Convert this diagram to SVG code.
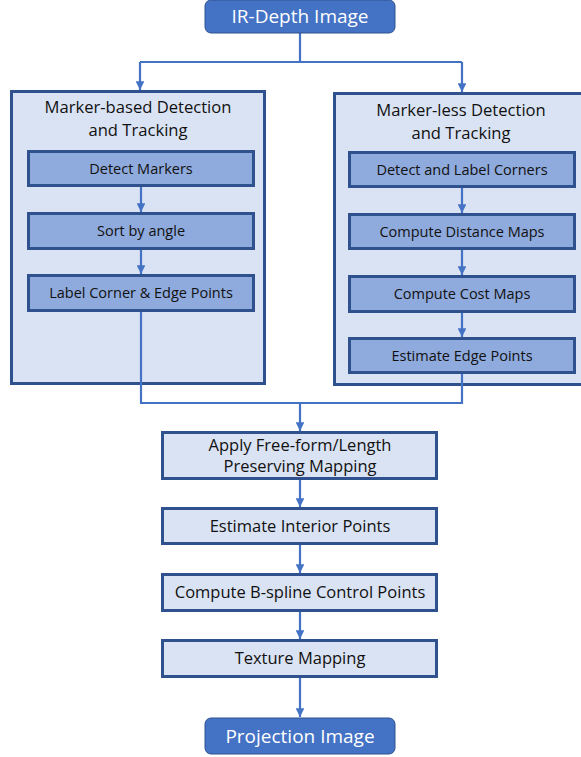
<svg xmlns="http://www.w3.org/2000/svg" width="581" height="757" viewBox="0 0 581 757">
<style>
text{font-family:"Open Sans","Noto Sans","Liberation Sans",sans-serif;text-anchor:middle;fill:#111}
.term{fill:#4472C4;stroke:#2F528F;stroke-width:1}
.term-t{fill:#fff;font-size:19px}
.outer{fill:#DAE3F3;stroke:#2F528F;stroke-width:3}
.inner{fill:#8FAADC;stroke:#2F528F;stroke-width:3}
.low{fill:#DAE3F3;stroke:#2F528F;stroke-width:3}
.t15{font-size:16.6px}
.t13{font-size:14.5px}
.t15b{font-size:16.5px}
.c{fill:none;stroke:#4472C4;stroke-width:2.2}
</style>
<defs>
<marker id="ah" viewBox="0 0 10 10" refX="10" refY="5" markerWidth="4" markerHeight="4" orient="auto" markerUnits="strokeWidth">
<path d="M0,0 L10,5 L0,10 z" fill="#4472C4"/>
</marker>
</defs>
<rect width="581" height="757" fill="#fff"/>
<g id="n-marker-based">
<rect class="outer" x="11.5" y="91.5" width="253" height="292"/>
<text class="t15" x="138" y="113">Marker-based Detection</text>
<text class="t15" x="138" y="136">and Tracking</text>
</g>
<g id="n-marker-less">
<rect class="outer" x="334.5" y="93.5" width="250" height="291"/>
<text class="t15" x="461" y="116">Marker-less Detection</text>
<text class="t15" x="461" y="139">and Tracking</text>
</g>
<g id="connectors">
<path class="c" d="M300,33 V62 M140,62 H462" />
<path class="c" d="M140,62 V90" marker-end="url(#ah)"/>
<path class="c" d="M462,62 V92" marker-end="url(#ah)"/>
<path class="c" d="M141,186 V212" marker-end="url(#ah)"/>
<path class="c" d="M141,249 V274" marker-end="url(#ah)"/>
<path class="c" d="M462,187 V213" marker-end="url(#ah)"/>
<path class="c" d="M462,249 V275" marker-end="url(#ah)"/>
<path class="c" d="M462,312 V337" marker-end="url(#ah)"/>
<path class="c" d="M141,311 V403 H462 V373"/>
<path class="c" d="M300,403 V431" marker-end="url(#ah)"/>
<path class="c" d="M300,479 V507" marker-end="url(#ah)"/>
<path class="c" d="M300,544 V573" marker-end="url(#ah)"/>
<path class="c" d="M300,611 V639" marker-end="url(#ah)"/>
<path class="c" d="M300,677 V717" marker-end="url(#ah)"/>
</g>
<g id="n-ir">
<rect class="term" x="205" y="0" width="190" height="33" rx="6"/>
<text class="term-t" x="300" y="23">IR-Depth Image</text>
</g>
<g id="n-detect-markers">
<rect class="inner" x="28.5" y="151.5" width="225" height="34"/>
<text class="t13" x="141" y="173.5">Detect Markers</text>
</g>
<g id="n-sort">
<rect class="inner" x="28.5" y="213.5" width="225" height="35"/>
<text class="t13" x="141" y="236">Sort by angle</text>
</g>
<g id="n-label-corner">
<rect class="inner" x="28.5" y="275.5" width="225" height="35"/>
<text class="t13" x="141" y="298">Label Corner &amp; Edge Points</text>
</g>
<g id="n-detect-label">
<rect class="inner" x="349.5" y="152.5" width="225" height="34"/>
<text class="t13" x="462" y="174.5">Detect and Label Corners</text>
</g>
<g id="n-distance">
<rect class="inner" x="349.5" y="214.5" width="225" height="34"/>
<text class="t13" x="462" y="236.5">Compute Distance Maps</text>
</g>
<g id="n-cost">
<rect class="inner" x="349.5" y="276.5" width="225" height="35"/>
<text class="t13" x="462" y="299">Compute Cost Maps</text>
</g>
<g id="n-edge">
<rect class="inner" x="349.5" y="338.5" width="225" height="34"/>
<text class="t13" x="462" y="360.5">Estimate Edge Points</text>
</g>
<g id="n-apply">
<rect class="low" x="162.5" y="432.5" width="274" height="46"/>
<text class="t15b" x="300" y="451">Apply Free-form/Length</text>
<text class="t15b" x="300" y="472">Preserving Mapping</text>
</g>
<g id="n-interior">
<rect class="low" x="162.5" y="508.5" width="274" height="35"/>
<text class="t15b" x="300" y="531.5">Estimate Interior Points</text>
</g>
<g id="n-bspline">
<rect class="low" x="162.5" y="574.5" width="274" height="36"/>
<text class="t15b" x="300" y="598">Compute B-spline Control Points</text>
</g>
<g id="n-texture">
<rect class="low" x="162.5" y="640.5" width="274" height="36"/>
<text class="t15b" x="300" y="664">Texture Mapping</text>
</g>
<g id="n-proj">
<rect class="term" x="205" y="718" width="190" height="36" rx="6"/>
<text class="term-t" x="300" y="743">Projection Image</text>
</g>
</svg>
